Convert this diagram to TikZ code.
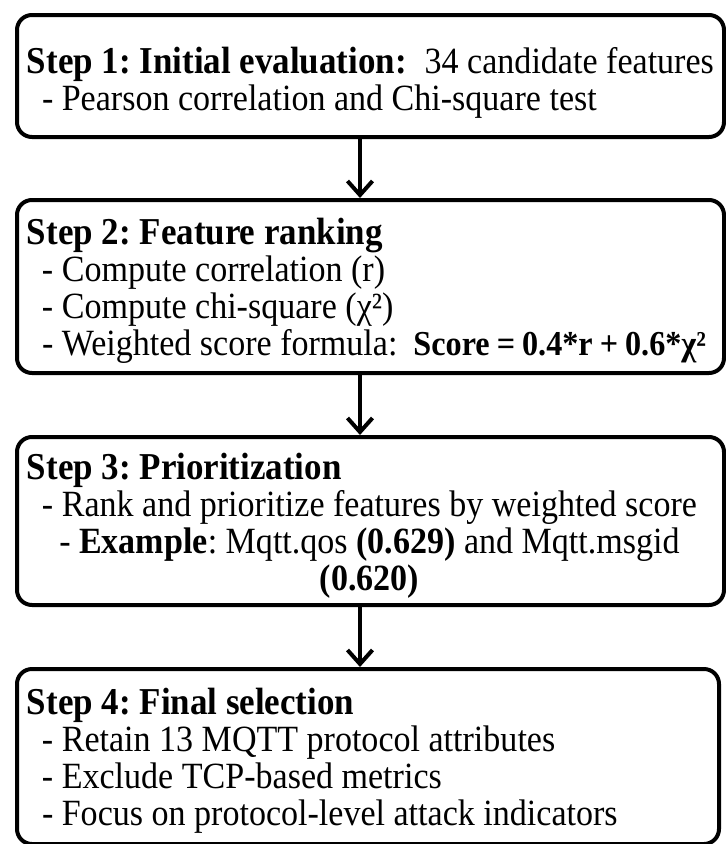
\documentclass[tikz,border=0pt]{standalone}
\usepackage{fontspec}
\setmainfont{Liberation Serif}[FakeStretch=0.92]
\usetikzlibrary{arrows.meta}
\newcommand{\topgap}[1][34pt]{\rule{0pt}{#1}}
\newcommand{\hd}[1]{{\fontsize{38}{37}\selectfont\spaceskip=.23em\bfseries #1}}
\newcommand{\bul}[1]{\hspace*{15pt}\mbox{- #1}}
\frenchspacing

\begin{document}
\begin{tikzpicture}[
x=1pt, y=-1pt,
stepnode/.style={rectangle, draw, line width=4pt, rounded corners=15pt, anchor=north west,
  inner xsep=10pt, inner ysep=0pt, align=left, font=\fontsize{37}{37}\selectfont,
  execute at begin node={\spaceskip=8.5pt\relax\lineskiplimit=-20pt\relax}},
flowarrow/.style={line width=4pt, -{Straight Barb[length=14pt, width=25pt]}},
]
\useasboundingbox (0,0) rectangle (726,844);
%Nodes
\node[stepnode, text width=687pt, minimum width=707pt, minimum height=122pt] (s1) at (15,13)
  {\topgap[40pt]\mbox{\hd{Step 1: Initial evaluation:}\hspace{18pt}34 candidate features}\\
   \bul{Pearson correlation and Chi-square test}};
\node[stepnode, text width=687pt, minimum width=707pt, minimum height=173pt] (s2) at (15,198)
  {\topgap\mbox{\hd{Step 2: Feature ranking}}\\
   \bul{Compute correlation (r)}\\
   \bul{Compute chi-square (χ²)}\\
   \bul{Weighted score formula:\hspace{16pt}{\fontsize{35}{37}\selectfont\spaceskip=7pt\bfseries Score = 0.4*r + 0.6*χ²}}};
\node[stepnode, text width=687pt, minimum width=707pt, minimum height=168pt] (s3) at (15,435)
  {\topgap[40pt]\mbox{\hd{Step 3: Prioritization}}\\
   \hspace*{15pt}\begin{tabular}[t]{@{}c@{}}
   - Rank and prioritize features by weighted score\\
   - \textbf{Example}: Mqtt.qos \textbf{(0.629)} and Mqtt.msgid\\
   \textbf{(0.620)}
   \end{tabular}};
\node[stepnode, text width=682pt, minimum width=702pt, minimum height=175pt] (s4) at (15,667)
  {\topgap\mbox{\hd{Step 4: Final selection}}\\
   \bul{Retain 13 MQTT protocol attributes}\\
   \bul{Exclude TCP-based metrics}\\
   \bul{Focus on protocol-level attack indicators}};

%Arrows
\coordinate (ax) at (360,0);
\draw[flowarrow] (s1.south -| ax) -- (s2.north -| ax);
\draw[flowarrow] (s2.south -| ax) -- (s3.north -| ax);
\draw[flowarrow] (s3.south -| ax) -- (s4.north -| ax);
\end{tikzpicture}
\end{document}
